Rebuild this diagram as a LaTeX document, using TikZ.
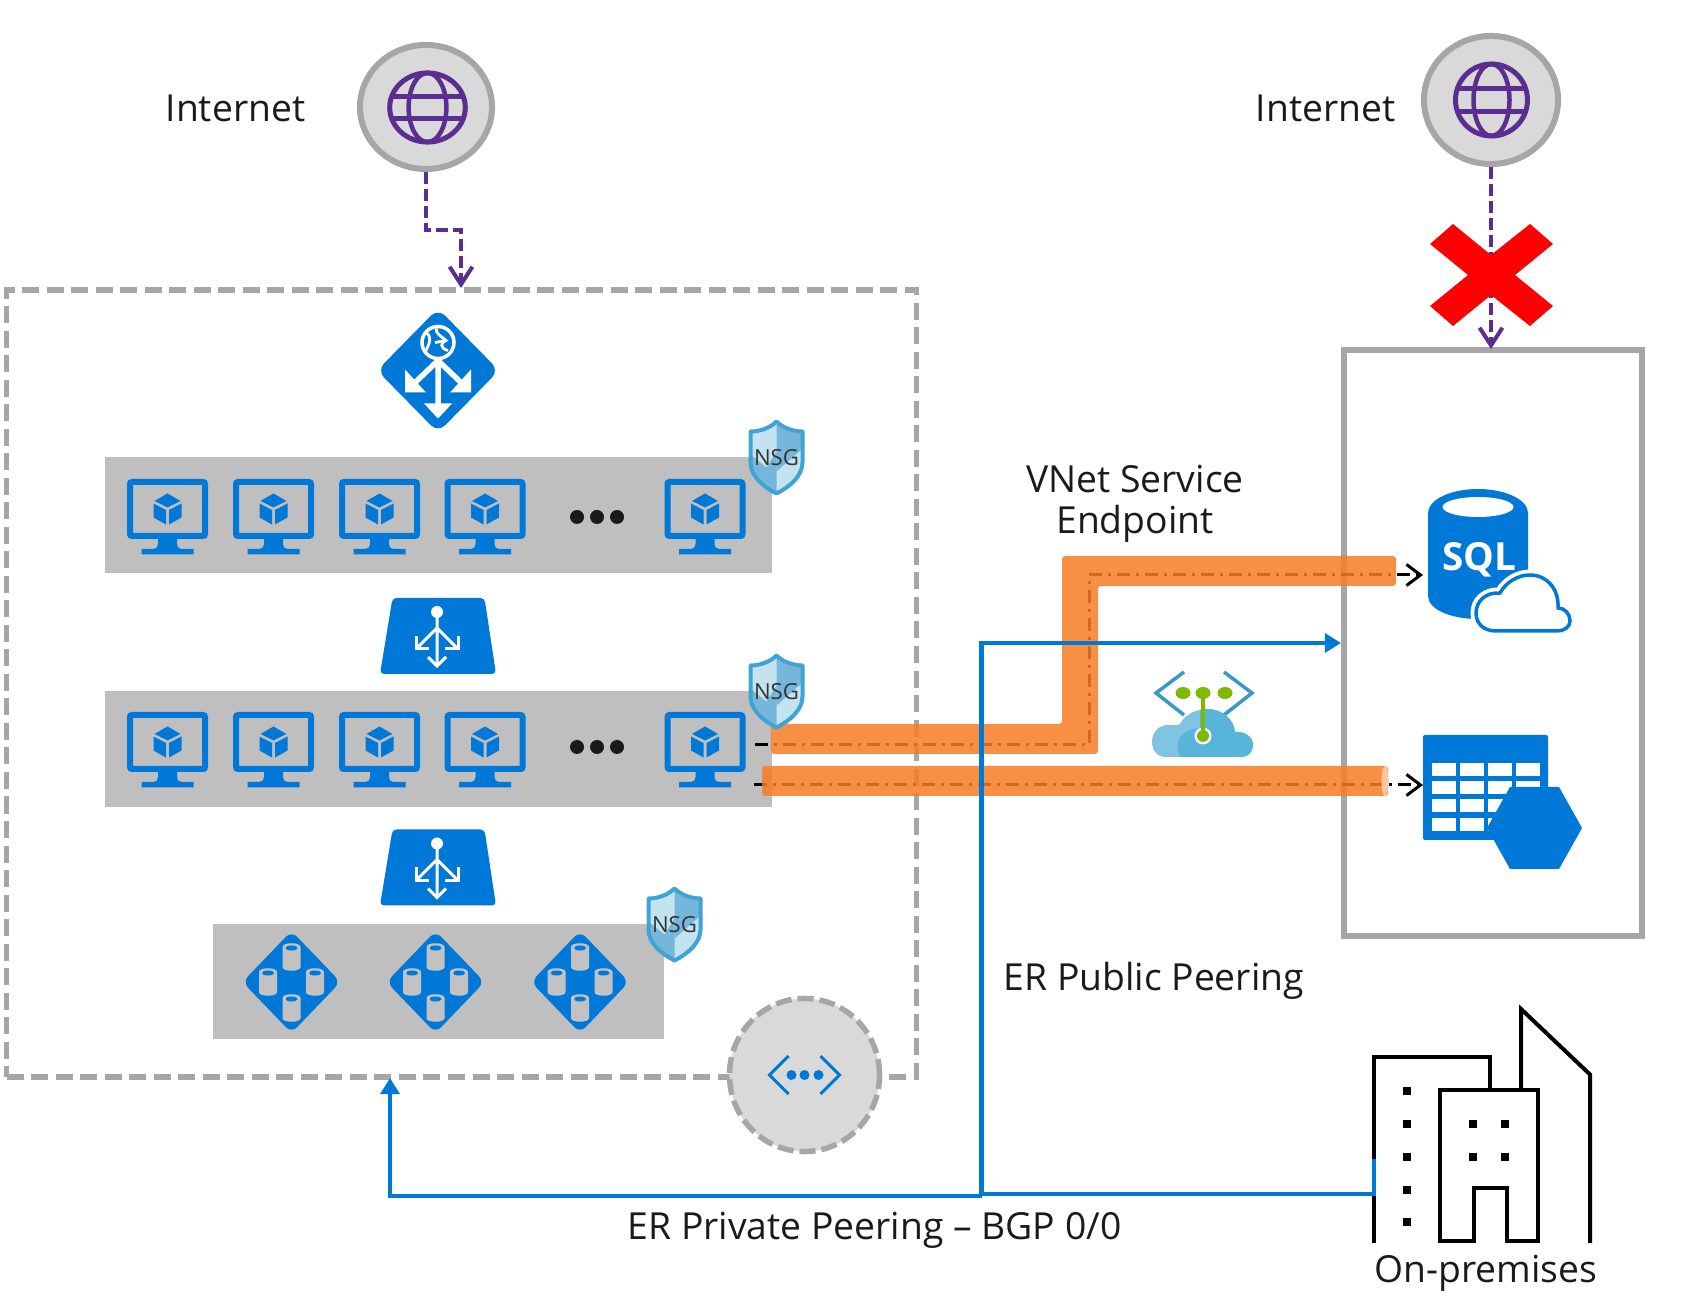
\documentclass[tikz,border=0pt]{standalone}
\usepackage{fontspec}
\setmainfont{Open Sans}
\usetikzlibrary{calc}
\usetikzlibrary{shapes.geometric}
\usetikzlibrary{arrows.meta,arrows}
\usetikzlibrary{positioning}
\definecolor{azblue}{HTML}{0078D7}
\definecolor{netpurple}{HTML}{5C2D91}
\definecolor{edgegrey}{HTML}{A6A6A6}
\definecolor{bubblegrey}{HTML}{D9D9D9}
\definecolor{bandgrey}{HTML}{BFBFBF}
\definecolor{pipeorange}{HTML}{F67D25}
\definecolor{shieldedge}{HTML}{3FA3D3}
\definecolor{shieldlight}{HTML}{C3E3F0}
\definecolor{shielddark}{HTML}{76B6DA}
\definecolor{erblue}{HTML}{3999C6}
\definecolor{ercloud}{HTML}{59B4D9}
\definecolor{ercloudlight}{HTML}{7FC4E3}
\definecolor{ergreen}{HTML}{7FBA00}
\definecolor{inktext}{HTML}{1A1A1A}
\newcommand{\ercloudpath}{(-39,64) .. controls (-47,64) and (-52,57) .. (-52,49) .. controls (-52,39) and (-45,32) .. (-36,32) .. controls (-31,32) and (-27,33) .. (-24,31) .. controls (-20,22) and (-8,16) .. (3,16) .. controls (18,16) and (30,26) .. (31,39) .. controls (41,38) and (49,44) .. (49,52) .. controls (49,59) and (44,64) .. (38,64) -- cycle}
\tikzset{
	caption/.style={font=\fontsize{10.6}{11.7}\selectfont, text=inktext, inner sep=0pt},
	bubble/.style={ellipse, draw=edgegrey, fill=bubblegrey, line width=.06cm, inner sep=0pt},
	band/.style={rectangle, fill=bandgrey, inner sep=0pt},
	webarrow/.style={draw=netpurple, line width=.04cm, dash pattern=on .12cm off .05cm, -{Straight Barb[length=5pt,width=6.5pt]}},
	erline/.style={draw=azblue, line width=.048cm},
	erarrow/.style={erline, -{Triangle[length=4.6pt,width=5.4pt]}},
	serviceline/.style={draw=black, line width=.03cm, dash pattern=on .13cm off .06cm on .03cm off .06cm, -{Straight Barb[length=4pt,width=6pt]}},
	pipe/.style={fill=pipeorange, opacity=.85, rounded corners=.03cm},
	globe/.pic={
		\draw[netpurple, line width=.05cm] (0,0) circle[radius=36];
		\draw[netpurple, line width=.045cm] (0,0) ellipse[x radius=18, y radius=36];
		\draw[netpurple, line width=.045cm] (-34,-11.5) -- (34,-11.5) (-34,11.5) -- (34,11.5);
	},
	vmicon/.pic={
		\draw[azblue, line width=.06cm, rounded corners=.02cm] (-37.5,-27) rectangle (37.5,27);
		\fill[azblue] (-9.5,30) -- (9.5,30) -- (9.5,35) .. controls (9.5,38) and (11,40) .. (14,40) -- (26,40) -- (26,45.5) -- (-26,45.5) -- (-26,40) -- (-14,40) .. controls (-11,40) and (-9.5,38) .. (-9.5,35) -- cycle;
		\fill[azblue] (0,-15.5) -- (13,-8) -- (0,-1.5) -- (-13,-8) -- cycle;
		\fill[azblue] (-14,-5.5) -- (-1.5,1) -- (-1.5,15.5) -- (-14,8.5) -- cycle;
		\fill[azblue] (14,-5.5) -- (1.5,1) -- (1.5,15.5) -- (14,8.5) -- cycle;
	},
	shield/.pic={
		\fill[shieldlight] (0,-37) .. controls (-6,-31) and (-16,-27) .. (-27,-27) -- (-27,5) .. controls (-27,18) and (-14,30) .. (0,37) .. controls (14,30) and (27,18) .. (27,5) -- (27,-27) .. controls (16,-27) and (6,-31) .. (0,-37) -- cycle;
		\fill[shielddark] (0,-33) .. controls (6,-28) and (14,-25) .. (25,-24) -- (25,-8) -- (0,14) -- cycle;
		\fill[shielddark] (-25,-2) -- (-25,5) .. controls (-25,16) and (-13,27) .. (0,35) -- (0,-6) -- (-10,10) -- cycle;
		\draw[shieldedge, line width=.04cm, line join=round] (0,-36) .. controls (-6,-30) and (-16,-26) .. (-26,-26) -- (-26,5) .. controls (-26,18) and (-14,29) .. (0,36) .. controls (14,29) and (26,18) .. (26,5) -- (26,-26) .. controls (16,-26) and (6,-30) .. (0,-36) -- cycle;
		\node[font=\fontsize{6.3}{7}\selectfont, text=black!80, inner sep=0pt] (-text) at (0,0) {NSG};
	},
	appgateway/.pic={
		\fill[azblue, rounded corners=.1cm] (0,-62) -- (61,0) -- (0,62) -- (-61,0) -- cycle;
		\draw[white, line width=.035cm] (0,-28) circle[radius=16];
		\draw[white, line width=.028cm] (-12,-38) .. controls (-6,-34) and (-8,-28) .. (-12,-20) (-2,-42) .. controls (-2,-36) and (4,-34) .. (8,-30) .. controls (2,-28) and (2,-22) .. (10,-20) (-3,-28) -- (8,-30);
		\draw[white, line width=.055cm] (0,-12) -- (0,36) (0,-10) -- (-25,14) (0,-10) -- (25,14);
		\fill[white] (-14,33) -- (14,33) -- (0,48) -- cycle;
		\fill[white] (-33,-1) -- (-33,22) -- (-12,22) -- cycle;
		\fill[white] (33,-1) -- (33,22) -- (12,22) -- cycle;
	},
	loadbalancer/.pic={
		\fill[azblue, rounded corners=.04cm] (-45.5,-38) -- (46.5,-38) -- (58,38) -- (-58,38) -- cycle;
		\fill[white] (-1,-24) circle[radius=6];
		\draw[white, line width=.03cm] (-1,-24) -- (-1,30) (-1,-8) -- (-22,13) (-1,-8) -- (20,13);
		\draw[white, line width=.03cm] (-10,21) -- (-1,30) -- (8,21);
		\draw[white, line width=.03cm] (-22,0) -- (-22,13) -- (-9,13) (20,0) -- (20,13) -- (7,13);
	},
	dbcylinder/.pic={
		\fill[bandgrey!95!white] (-9,-10) -- (-9,10) .. controls (-9,15) and (9,15) .. (9,10) -- (9,-10) .. controls (9,-15) and (-9,-15) .. (-9,-10) -- cycle;
		\fill[azblue] (0,-9) ellipse[x radius=6, y radius=2.5];
	},
	dbcluster/.pic={
		\fill[azblue, rounded corners=.08cm] (0,-51) -- (49,0) -- (0,51) -- (-49,0) -- cycle;
		\pic at (0,-25) {dbcylinder};
		\pic at (0,26) {dbcylinder};
		\pic at (-23.5,0) {dbcylinder};
		\pic at (23.5,0) {dbcylinder};
	},
	sqlcloud/.pic={
		\fill[azblue] (-50,-48) .. controls (-50,-61) and (-28,-72) .. (0,-72) .. controls (28,-72) and (50,-61) .. (50,-48) -- (50,35) .. controls (50,48) and (28,58) .. (0,58) .. controls (-28,58) and (-50,48) .. (-50,35) -- cycle;
		\fill[white] (0,-54) ellipse[x radius=35.5, y radius=10];
		\node[font=\fontsize{11}{12}\bfseries\selectfont, text=white, inner sep=0pt] (-text) at (1,-1) {SQL};
		\draw[azblue, line width=.035cm, fill=white, preaction={draw=white, line width=.11cm}] (18,70) .. controls (5,70) and (-2,62) .. (-2,52) .. controls (-2,40) and (8,31) .. (22,32) .. controls (28,21) and (40,14) .. (52,14) .. controls (69,14) and (81,28) .. (80,47) .. controls (87,47) and (92,53) .. (92,60) .. controls (92,66) and (86,70) .. (79,70) -- cycle;
	},
	ercircuit/.pic={
		\draw[erblue, line width=.035cm] (-20,-21) -- (-48,0) -- (-20,22) (20,-21) -- (48,0) -- (20,22);
		\fill[ercloudlight] \ercloudpath;
		\begin{scope}
			\clip \ercloudpath;
			\fill[ercloud] (-24,64) .. controls (-30,50) and (-25,36) .. (-4,35) -- (-4,10) -- (55,10) -- (55,70) -- cycle;
		\end{scope}
		\fill[ergreen] (-21,0) ellipse[x radius=7.5, y radius=6] (-1,0) ellipse[x radius=7.5, y radius=6] (21,0) ellipse[x radius=7.5, y radius=6];
		\fill[white] (-1,43) circle[radius=8.5];
		\draw[ergreen, line width=.045cm] (-1,0) -- (-1,43);
		\fill[ergreen] (-1,43) circle[radius=6];
	},
	tablestore/.pic={
		\fill[azblue, rounded corners=.02cm] (0,0) rectangle (125,105);
		\foreach \cx in {9,37,65,93} \foreach \cy in {28,46,64,83}
			\fill[white] (\cx,\cy) rectangle +(23.5,13);
		\fill[azblue] (87,52) -- (136,52) -- (159,93) -- (136,134) -- (87,134) -- (64,93) -- cycle;
	},
	vnetglyph/.pic={
		\draw[azblue, line width=.03cm] (-16,-19) -- (-35,0) -- (-16,19) (16,-19) -- (35,0) -- (16,19);
		\fill[azblue] (-13,0) circle[radius=5] (0,0) circle[radius=5] (14,0) circle[radius=5];
	}
}

\begin{document}
\begin{tikzpicture}[x=.01cm, y=-.01cm]
\useasboundingbox (0,0) rectangle (1697,1304);

\node[draw=edgegrey, line width=.055cm, dash pattern=on .17cm off .075cm, inner sep=0pt, minimum width=9.09cm, minimum height=7.87cm] (vnetbox) at (461.5,683.5) {};

\node[draw=edgegrey, line width=.06cm, inner sep=0pt, minimum width=2.98cm, minimum height=5.86cm] (paasbox) at (1493,643) {};

\node[bubble, minimum width=1.32cm, minimum height=1.24cm] (inetleft) at (426,107) {};
\node[bubble, minimum width=1.34cm, minimum height=1.28cm] (inetright) at (1491,100) {};
\pic[xscale=1.05, yscale=.96] (globeleft) at (427.5,107.5) {globe};
\pic (globeright) at (1491.5,100) {globe};

\node[caption, anchor=base west] (inetlefttext) at (165,122) {Internet};
\node[caption, anchor=base west] (inetrighttext) at (1255,122) {Internet};

\pic (gateway) at (438,370.5) {appgateway};

\node[band, minimum width=6.67cm, minimum height=1.15cm] (webband) at (438.5,515) {};
\node[band, minimum width=6.67cm, minimum height=1.16cm] (appband) at (438.5,749) {};
\node[band, minimum width=4.51cm, minimum height=1.15cm] (databand) at (438.5,981.5) {};

\foreach \vmx in {167.5,273.5,379.5,485,705} {
	\pic at (\vmx,509) {vmicon};
	\pic at (\vmx,742) {vmicon};
}
\foreach \dotx in {577,597,617} {
	\fill[inktext] (\dotx,517) circle[radius=7];
	\fill[inktext] (\dotx,747) circle[radius=7];
}

\pic (lbweb) at (438,636) {loadbalancer};
\pic (lbapp) at (438,867.5) {loadbalancer};

\pic at (291.5,982) {dbcluster};
\pic at (435.5,982) {dbcluster};
\pic at (580,982) {dbcluster};

\node[bubble, line width=.055cm, dash pattern=on .16cm off .06cm, minimum width=1.5cm, minimum height=1.53cm] (vnetgate) at (804.5,1075) {};
\pic at (804.5,1075) {vnetglyph};

\pic (sql) at (1478,561) {sqlcloud};
\pic (table) at (1423,735) {tablestore};
\pic (circuit) at (1204,693) {ercircuit};

\coordinate (gatewayin) at (461,288);
\coordinate (webbend) at (461,230);
\coordinate (paasin) at (1491,349);
\draw[webarrow] (inetleft.south) |- (webbend) -- (gatewayin);
\draw[webarrow] (inetright.south) -- (paasin);

\fill[red] (1453,224) -- (1491,255) -- (1530,224) -- (1553,244) -- (1515,275) -- (1553,306) -- (1530,326) -- (1491,295) -- (1453,326) -- (1430,306) -- (1468,275) -- (1430,244) -- cycle;

\coordinate (vmsql) at (755,745);
\coordinate (sqlbend) at (1089,575);
\coordinate (sqlin) at (1423,575);
\coordinate (vmtable) at (754,785);
\coordinate (tablein) at (1423,785);
\draw[serviceline] (vmsql) -| (sqlbend) -- (sqlin);
\draw[serviceline] (vmtable) -- (tablein);

\fill[pipe] (771,724) -- (1062,724) -- (1062,556) -- (1396,556) -- (1396,586) -- (1098,586) -- (1098,754) -- (771,754) -- cycle;
\fill[pipe] (762,766) -- (1388,766) -- (1388,796) -- (762,796) -- cycle;
\fill[pipeorange!45!white] (1385,781) ellipse[x radius=3.5, y radius=15];

\pic (nsgweb) at (776.5,457.5) {shield};
\pic (nsgapp) at (776.5,691.5) {shield};
\pic (nsgdata) at (674.5,924.5) {shield};

\draw[black, line width=.04cm] (1374,1243) -- (1374,1057) -- (1490,1057) -- (1490,1089);
\draw[black, line width=.04cm] (1440,1089.5) rectangle (1537.5,1241);
\draw[black, line width=.04cm] (1521,1089) -- (1521,1009) -- (1590,1074.5) -- (1590,1243);
\fill[white] (1473.5,1188) rectangle (1506.5,1245);
\draw[black, line width=.04cm] (1440,1241) -- (1473.5,1241) -- (1473.5,1188) -- (1506.5,1188) -- (1506.5,1241) -- (1537.5,1241);
\foreach \winy in {1091,1124,1157,1190,1222}
	\fill[black] (1403,\winy-4) rectangle (1411,\winy+4);
\foreach \winx in {1472.5,1505} \foreach \winy in {1124,1157}
	\fill[black] (\winx-4,\winy-4) rectangle (\winx+4,\winy+4);

\coordinate (erjoin) at (981.5,1196);
\coordinate (erright) at (981.5,1194);
\coordinate (onprem) at (1374,1159);
\coordinate (vnetin) at (390,1078);
\draw[erline] (onprem) |- (erright);
\draw[erarrow] (erjoin) -| (vnetin);
\draw[erarrow] (erjoin) |- (paasbox.west);

\node[caption, anchor=south, align=center] (endpointtext) at (1135,543) {VNet Service\\Endpoint};
\node[caption, anchor=base west] (publictext) at (1003,991) {ER Public Peering};
\node[caption, anchor=base west] (privatetext) at (627,1239) {ER Private Peering -- BGP 0/0};
\node[caption, anchor=base west] (onpremtext) at (1373.5,1282) {On-premises};

\end{tikzpicture}
\end{document}
